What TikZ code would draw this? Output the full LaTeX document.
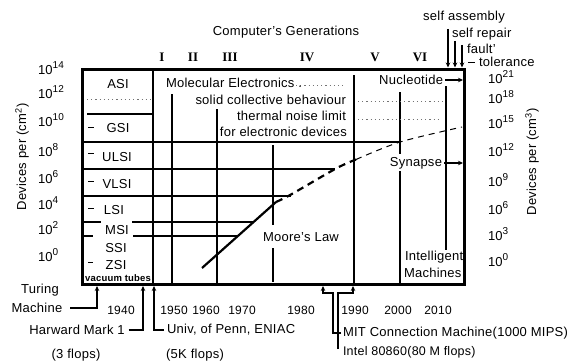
\documentclass[tikz,border=0pt]{standalone}
\usepackage{fontspec}
\setmainfont{Liberation Sans}[LetterSpace=2]
\newfontfamily\romfont{Liberation Serif}
\usetikzlibrary{arrows.meta}
\newcommand\tenpow[1]{10\raisebox{0.8ex}{\fontsize{10}{10}\selectfont #1}}
\begin{document}
\begin{tikzpicture}[x=1pt,y=-1pt,
  every node/.style={inner sep=0pt, outer sep=0pt, font=\fontsize{13}{15}\selectfont},
  frame/.style={line width=3pt},
  col/.style={line width=1.6pt},
  hl/.style={line width=1.3pt},
  vl/.style={line width=1.2pt},
  dotl/.style={line width=0.7pt, dash pattern=on 1.2pt off 3pt, black!55},
  moore/.style={line width=2.2pt},
  mdash/.style={line width=2.2pt, dash pattern=on 7pt off 5pt},
  mdashb/.style={line width=1pt, dash pattern=on 6pt off 5pt},
  conn/.style={line width=1.4pt},
  arr/.style={line width=1.3pt, -{Stealth[length=5pt,width=4.5pt]}},
  connarr/.style={line width=1.4pt, -{Stealth[length=5pt,width=4.5pt]}},
  year/.style={font=\fontsize{12}{14}\selectfont},
  gen/.style={font=\romfont\bfseries\fontsize{13}{15}\selectfont},
  tickl/.style={line width=1pt},
  ax/.style={anchor=west},
  lev/.style={anchor=center},
]
\fill[white] (0,0) rectangle (572,361);
\useasboundingbox (0,0) rectangle (572,361);

% title and generations
\node (title) at (286,32) {Computer's Generations};
\node[gen] (g1) at (162,57) {I};
\node[gen] (g2) at (193,57) {II};
\node[gen] (g3) at (230,57) {III};
\node[gen] (g4) at (307,57) {IV};
\node[gen] (g5) at (375,57) {V};
\node[gen] (g6) at (420,57) {VI};

% main frame
\draw[frame] (82,69) rectangle (464,284);
\draw[col] (153,69) -- (153,284);

% horizontal level lines
\draw[dotl] (87,99) -- (151,99);
\draw[hl] (87,114) -- (153,114);
\draw[hl] (82,142) -- (400,142);
\draw[hl] (82,169) -- (335,169);
\draw[hl] (82,196) -- (291,196);
\draw[hl] (82,222) -- (101,222) (132,222) -- (254,222);
\draw[hl] (82,236) -- (93,236) (133,236) -- (238,236);

% vertical lines
\draw[vl] (172,94) -- (172,284);
\draw[vl] (217,109) -- (217,284);
\draw[vl] (273,145) -- (273,225) (273,248) -- (273,282);
\draw[vl] (354,75) -- (354,284);
\draw[vl] (400,92) -- (400,154) (400,171) -- (400,284);
\draw[vl] (446,86) -- (446,250);

% dotted lines
\draw[dotl] (296,85) -- (346,85);
\draw[dotl] (358,101) -- (444,101);
\draw[dotl] (358,119) -- (440,119);

% Moore's law
\draw[moore] (202,268) -- (276,202);
\draw[mdash] plot[smooth] coordinates {(276,202) (291,194.5) (336,168.5) (356,159.5)};
\draw[mdashb] plot[smooth] coordinates {(356,159.5) (400,142) (462,127)};

% level labels
\node[lev] (asi) at (118,84) {ASI};
\node[lev] (gsi) at (118,128) {GSI};
\node[lev] (ulsi) at (117,157) {ULSI};
\node[lev] (vlsi) at (117,184) {VLSI};
\node[lev] (lsi) at (114,210) {LSI};
\node[lev] (msi) at (117,230) {MSI};
\node[lev] (ssi) at (116,248) {SSI};
\node[lev] (zsi) at (116,265) {ZSI};
\node[font=\bfseries\fontsize{9.5}{10}\selectfont] (vac) at (118,278) {vacuum tubes};
\draw[tickl] (88,127) -- (94,127);
\draw[tickl] (88,153) -- (94,153);
\draw[tickl] (88,181) -- (94,181);
\draw[tickl] (88,208) -- (94,208);
\draw[tickl] (88,262) -- (93,262);

% texts inside
\node[anchor=west] (mol) at (166,83) {Molecular Electronics .};
\node[anchor=east] (sol) at (346,100) {solid collective behaviour};
\node[anchor=east] (therm) at (346,116) {thermal noise limit};
\node[anchor=east] (forel) at (347,132) {for electronic devices};
\node (moorel) at (301,237) {Moore's Law};
\node[anchor=east] (nucl) at (443,80) {Nucleotide};
\node[anchor=east] (syn) at (442,163) {Synapse};
\node[anchor=west] (intel1) at (405,257) {Intelligent};
\node[anchor=west] (mach2) at (404,273) {Machines};
\coordinate (nucle) at (463,80);
\coordinate (syne) at (463,163);
\draw[arr, shorten <=2pt] (nucl.east) -- (nucle);
\draw[arr, shorten <=2pt] (syn.east) -- (syne);

% left axis
\node[ax] (l14) at (38,68) {\tenpow{14}};
\node[ax] (l12) at (38,92) {\tenpow{12}};
\node[ax] (l10) at (38,120) {\tenpow{10}};
\node[ax] (l8) at (38,150) {\tenpow{8}};
\node[ax] (l6) at (38,177) {\tenpow{6}};
\node[ax] (l4) at (38,203) {\tenpow{4}};
\node[ax] (l2) at (38,228) {\tenpow{2}};
\node[ax] (l0) at (38,255) {\tenpow{0}};
\node[rotate=90] (ylab) at (22,157) {Devices per (cm\textsuperscript{2})};

% right axis
\node[ax] (r21) at (488,77) {\tenpow{21}};
\node[ax] (r18) at (488,97) {\tenpow{18}};
\node[ax] (r15) at (488,122) {\tenpow{15}};
\node[ax] (r12) at (488,150) {\tenpow{12}};
\node[ax] (r9) at (488,180) {\tenpow{9}};
\node[ax] (r6) at (488,208) {\tenpow{6}};
\node[ax] (r3) at (488,234) {\tenpow{3}};
\node[ax] (r0) at (488,260) {\tenpow{0}};
\node[rotate=90] (yrlab) at (532,162) {Devices per (cm\textsuperscript{3})};

% top right annotations
\node (sa) at (464,17) {self assembly};
\node[anchor=west] (sr) at (452,34) {self repair};
\node[anchor=west] (fa) at (467,49) {fault'};
\node[anchor=west] (tol) at (479,62) {tolerance};
\coordinate (ta1) at (448,29);  \coordinate (tb1) at (448,67.5);
\coordinate (ta2) at (455,41);  \coordinate (tb2) at (455,67.5);
\coordinate (ta3) at (462,45);  \coordinate (tb3) at (462,67.5);
\draw[arr] (ta1) -- (tb1);
\draw[arr] (ta2) -- (tb2);
\draw[arr] (ta3) -- (tb3);
\coordinate (tda) at (468,62); \coordinate (tdb) at (475,62);
\draw[tickl] (tda) -- (tdb);

% years
\node[year] (y1940) at (121,310) {1940};
\node[year] (y1950) at (174,310) {1950};
\node[year] (y1960) at (206,310) {1960};
\node[year] (y1970) at (242,310) {1970};
\node[year] (y1980) at (301,310) {1980};
\node[year] (y1990) at (355,310) {1990};
\node[year] (y2000) at (398,310) {2000};
\node[year] (y2010) at (438,310) {2010};

% bottom annotations
\node (tur) at (40,290) {Turing};
\node (machine) at (37,308) {Machine};
\node (harw) at (77,330) {Harward Mark 1};
\node (flops3) at (76,355) {(3 flops)};
\node[anchor=west] (univ) at (167,330) {Univ, of Penn, ENIAC};
\node (flops5) at (195,355) {(5K flops)};
\node[anchor=west] (mit) at (343,333) {MIT Connection Machine(1000 MIPS)};
\node[anchor=west, font=\fontsize{12.5}{14}\selectfont] (intel) at (343,352) {Intel 80860(80 M flops)};

\coordinate (b1) at (97,286);
\coordinate (b2) at (143,286);
\coordinate (b3) at (154,286);
\coordinate (b4) at (323,286);
\coordinate (b5) at (353,286);
\coordinate (mt) at (333,293);
\coordinate (ie) at (338,349);
\coordinate (it) at (338,293);

\draw[connarr, shorten <=8pt] (machine.east) -| (b1);
\draw[connarr, shorten <=4pt] (harw.east) -| (b2);
\draw[connarr, shorten <=3pt] (univ.west) -| (b3);
\draw[connarr, shorten <=2pt] (mit.west) -| (mt) -| (b4);
\draw[connarr] (ie) -- (it) -| (b5);
\end{tikzpicture}
\end{document}
